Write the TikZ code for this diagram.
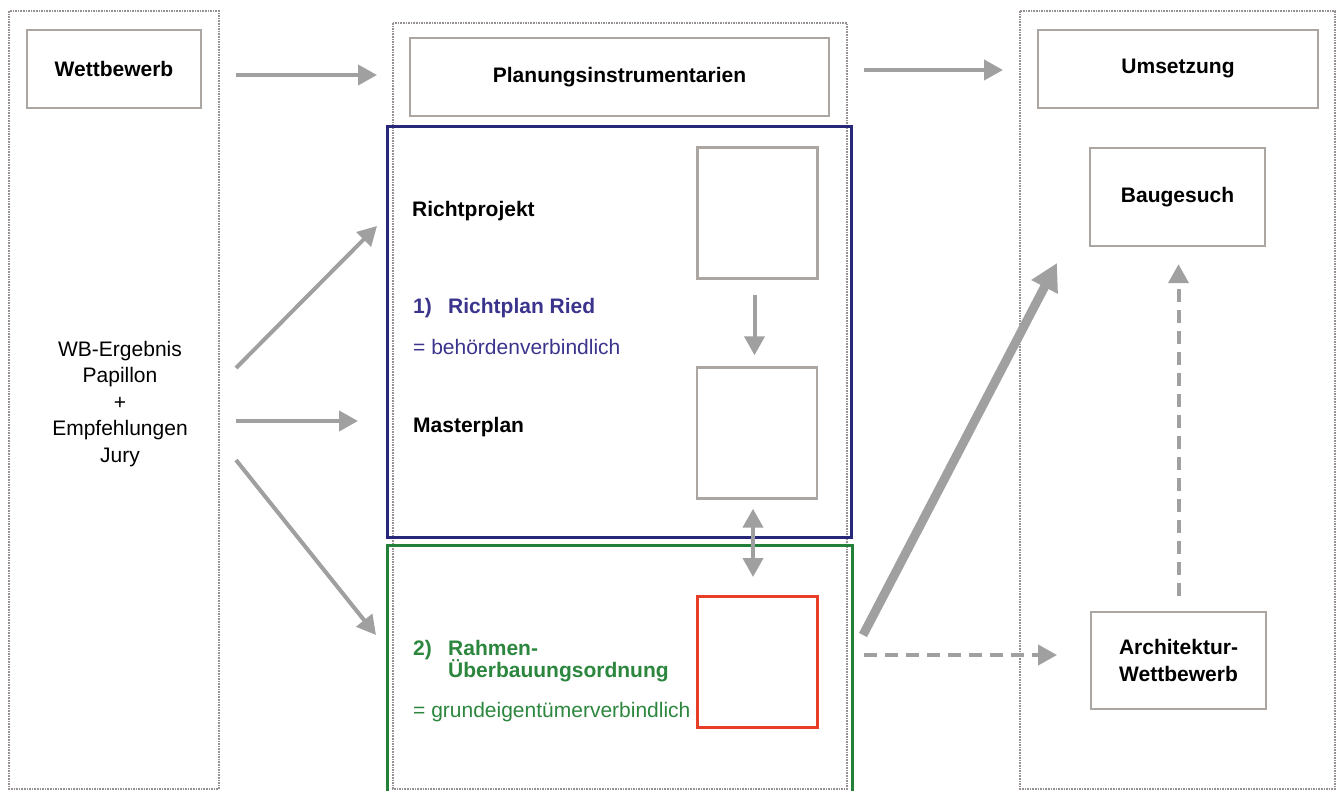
\documentclass[tikz,border=0pt]{standalone}
\usepackage{fontspec}
\setmainfont{Liberation Sans}
\usetikzlibrary{arrows.meta}

\definecolor{boxgray}{RGB}{172,166,162}
\definecolor{dotgray}{RGB}{150,145,142}
\definecolor{arrgray}{RGB}{160,160,160}
\definecolor{planblue}{RGB}{40,40,122}
\definecolor{txtblue}{RGB}{58,52,140}
\definecolor{rahmengreen}{RGB}{34,128,56}
\definecolor{txtgreen}{RGB}{44,134,62}
\definecolor{frred}{RGB}{232,62,40}

\tikzset{
  txt/.style={font=\fontsize{21}{26.5}\selectfont, inner sep=0pt},
  txtbold/.style={font=\fontsize{21}{26.5}\selectfont\bfseries, inner sep=0pt},
  titlebox/.style={txtbold, draw=boxgray, line width=2.4pt},
  column/.style={draw=dotgray, densely dotted, line width=1.6pt},
  square/.style={draw=boxgray, line width=2.4pt, minimum width=120pt, minimum height=131pt, inner sep=0pt},
  arr/.style={draw=arrgray, line width=4pt, -{Triangle[length=19pt,width=20pt]}},
  dasharr/.style={arr, dash pattern=on 13pt off 8pt},
}

\begin{document}
\begin{tikzpicture}[x=1pt,y=1pt,yscale=-1,xscale=1]
\useasboundingbox (0,0) rectangle (1340,791);

%Shape: Rectangle (columns)
\draw[column] (9,11) rectangle (219,789);
\draw[column] (393,23) rectangle (847,789);
\draw[column] (1020,11) rectangle (1335,789);

%Shape: Rectangle (frames)
\draw[planblue, line width=3pt] (387,127) rectangle (851,537);
\draw[rahmengreen, line width=3pt] (387,545) rectangle (852,800);

%Title boxes
\node[titlebox, minimum width=174pt, minimum height=78pt] (wettbewerb) at (114,69) {Wettbewerb};
\node[titlebox, minimum width=419pt, minimum height=78pt] (planung) at (619.5,77) {Planungsinstrumentarien};
\node[titlebox, minimum width=280pt, minimum height=78pt] (umsetzung) at (1178,69) {Umsetzung};
\node[titlebox, minimum width=175pt, minimum height=98pt] (baugesuch) at (1177.5,197) {Baugesuch};
\node[titlebox, minimum width=175pt, minimum height=97pt, align=center] (archwb) at (1178.5,660.5) {Architektur-\\Wettbewerb};

%Text
\node[txt, align=center] (ergebnis) at (120,404) {WB-Ergebnis\\Papillon\\+\\Empfehlungen\\Jury};

%Squares
\node[square] (richtsq) at (757.5,213) {};
\node[square] (mastersq) at (757,433) {};
\node[square, draw=frred, line width=3pt] (rahmensq) at (757,662) {};

%Labels
\node[txtbold, anchor=base west] (richtprojekt) at (412,217) {Richtprojekt};
\node[txtbold, text=txtblue, anchor=base west] (nr1) at (413,314) {1)};
\node[txtbold, text=txtblue, anchor=base west] (richtplan) at (448,314) {Richtplan Ried};
\node[txt, text=txtblue, anchor=base west] (behoerde) at (413,354) {= behördenverbindlich};
\node[txtbold, anchor=base west] (masterplan) at (413,432) {Masterplan};
\node[txtbold, text=txtgreen, anchor=base west] (nr2) at (413,655) {2)};
\node[txtbold, text=txtgreen, anchor=base west] (rahmen) at (448,655) {Rahmen-};
\node[txtbold, text=txtgreen, anchor=base west] (ueberbau) at (448,677) {Überbauungsordnung};
\node[txt, text=txtgreen, anchor=base west] (grund) at (413,717) {= grundeigentümerverbindlich};

%Arrow ends
\coordinate (wbout) at (236,75);
\coordinate (planin) at (377,75);
\coordinate (planout) at (864,70);
\coordinate (umsin) at (1003,70);
\coordinate (ergup) at (236,368);
\coordinate (richtin) at (377,226);
\coordinate (ergmid) at (236,421);
\coordinate (masterin) at (358,421);
\coordinate (ergdown) at (236,460);
\coordinate (rahmenin) at (376,635);
\coordinate (rahmenout) at (863,635);
\coordinate (baugin) at (1057,263);
\coordinate (dashout) at (864,655);
\coordinate (archin) at (1057,655);

%Straight Lines
\draw[arr] (wbout) -- (planin);
\draw[arr] (planout) -- (umsin);
\draw[arr] (ergup) -- (richtin);
\draw[arr] (ergmid) -- (masterin);
\draw[arr] (ergdown) -- (rahmenin);
\draw[arr, shorten <=15pt, shorten >=11pt] ([xshift=-3pt]richtsq.south) -- ([xshift=-3pt]richtsq.south |- mastersq.north);
\draw[arr, {Triangle[length=19pt,width=20pt]}-{Triangle[length=19pt,width=20pt]}, shorten <=9pt, shorten >=18pt] ([xshift=-4pt]mastersq.south) -- ([xshift=-4pt]mastersq.south |- rahmensq.north);
\draw[arr, line width=9pt, -{Triangle[length=27pt,width=28pt]}] (rahmenout) -- (baugin);
\draw[dasharr] (dashout) -- (archin);
\draw[dasharr, shorten <=15pt, shorten >=17pt] (archwb.north) -- (archwb.north |- baugesuch.south);
\end{tikzpicture}
\end{document}
